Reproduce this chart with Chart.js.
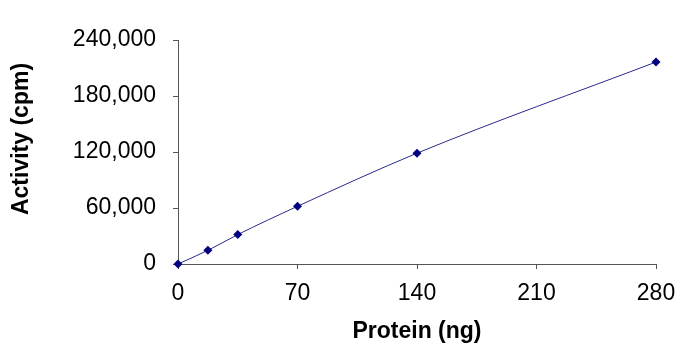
<!DOCTYPE html>
<html>
<head>
<meta charset="utf-8">
<script src="https://cdn.jsdelivr.net/npm/chart.js@4"></script>
<style>
html,body{margin:0;padding:0;background:#fff;}
#wrap{width:692px;height:356px;position:relative;}
</style>
</head>
<body>
<div id="wrap"><canvas id="c" width="692" height="356"></canvas></div>
<script>
const proteinNg = [0, 17.5, 35, 70, 140, 280];
const activityCpm = [0, 14600, 31500, 61800, 118700, 216400];
const xTicks = [0, 70, 140, 210, 280];
const yTicks = [0, 60000, 120000, 180000, 240000];
const xTitle = 'Protein (ng)';
const yTitle = 'Activity (cpm)';

const points = proteinNg.map((x, i) => ({x: x, y: activityCpm[i]}));
const FONT = '"Liberation Sans", Arial, Helvetica, sans-serif';

const yTitlePlugin = {
  id: 'yTitlePlugin',
  afterDraw(chart) {
    const ctx = chart.ctx;
    ctx.save();
    ctx.translate(22, 139);
    ctx.rotate(-Math.PI / 2);
    ctx.font = 'bold 23px ' + FONT;
    ctx.fillStyle = '#000';
    ctx.textAlign = 'center';
    ctx.textBaseline = 'middle';
    ctx.fillText(yTitle, 0, 0);
    ctx.restore();
  }
};

new Chart(document.getElementById('c'), {
  type: 'scatter',
  data: {
    datasets: [{
      data: points,
      showLine: true,
      borderColor: '#2a2a8c',
      borderWidth: 1,
      cubicInterpolationMode: 'monotone',
      pointStyle: 'rectRot',
      pointRadius: 4.5,
      pointHoverRadius: 4.5,
      pointBackgroundColor: '#000080',
      pointBorderColor: '#000080',
      pointBorderWidth: 0,
      clip: false
    }]
  },
  options: {
    responsive: false,
    animation: false,
    devicePixelRatio: 1,
    layout: {padding: {top: 40, right: 36, left: 0, bottom: 0}},
    plugins: {legend: {display: false}, tooltip: {enabled: false}},
    scales: {
      x: {
        type: 'linear',
        min: xTicks[0],
        max: xTicks[xTicks.length - 1],
        afterBuildTicks: (s) => { s.ticks = xTicks.map(v => ({value: v})); },
        afterFit: (s) => { s.height = 92; },
        grid: {drawOnChartArea: false, drawTicks: true, tickLength: 5, color: '#555'},
        border: {display: true, color: '#555', width: 1},
        ticks: {color: '#000', font: {family: FONT, size: 23}, padding: 11, maxRotation: 0},
        title: {display: true, text: xTitle, color: '#000', font: {family: FONT, size: 23, weight: 'bold'}, padding: {top: 0, bottom: 11}}
      },
      y: {
        type: 'linear',
        min: yTicks[0],
        max: yTicks[yTicks.length - 1],
        afterBuildTicks: (s) => { s.ticks = yTicks.map(v => ({value: v})); },
        afterFit: (s) => { s.width = 178; },
        grid: {drawOnChartArea: false, drawTicks: true, tickLength: 5, color: '#555'},
        border: {display: true, color: '#555', width: 1},
        ticks: {color: '#000', font: {family: FONT, size: 23}, padding: 17,
          callback: (v) => v.toLocaleString('en-US')}
      }
    }
  },
  plugins: [yTitlePlugin]
});
</script>
</body>
</html>
